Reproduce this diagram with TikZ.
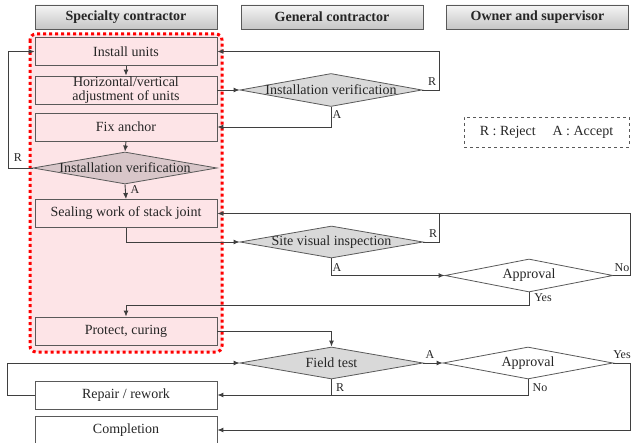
\documentclass[tikz,border=0pt]{standalone}
\usepackage{fontspec}
\setmainfont{Liberation Serif}
\usetikzlibrary{arrows.meta,shapes.geometric}
\definecolor{pinkfill}{HTML}{FDE4E7}
\definecolor{boxline}{HTML}{595959}
\definecolor{connc}{HTML}{3F3F3F}
\definecolor{grayfill}{HTML}{D9D9D9}
\definecolor{pinkgray}{HTML}{D8C6C9}
\definecolor{txt}{HTML}{262626}
\begin{document}
\begin{tikzpicture}[x=1pt,y=-1pt,
  every node/.style={text=txt},
  header/.style={draw=boxline, line width=0.8pt, top color=gray!8, bottom color=gray!45,
    minimum width=182pt, minimum height=24pt, inner sep=0pt, font=\fontsize{14}{14}\selectfont\bfseries},
  box/.style={draw=boxline, line width=0.8pt, fill=pinkfill, minimum width=182pt, minimum height=28pt,
    inner sep=0pt, align=center, font=\fontsize{14}{14.5}\selectfont},
  wbox/.style={box, fill=white},
  dia/.style={diamond, draw=boxline, line width=0.8pt, fill=grayfill, inner sep=0pt,
    minimum width=183pt, minimum height=32pt},
  diatext/.style={font=\fontsize{14}{14}\selectfont, inner sep=0pt},
  lbl/.style={font=\fontsize{12}{12}\selectfont, inner sep=0pt},
  conn/.style={draw=connc, line width=0.9pt},
  arr/.style={conn, -{Latex[length=6pt,width=5pt]}}
]
\useasboundingbox (0,0) rectangle (631,443);

% headers
\node[header] (h1) at (126,17) {Specialty contractor};
\node[header] (h2) at (332,17) {General contractor};
\node[header] (h3) at (537.5,17) {Owner and supervisor};

% red dotted region
\draw[red, fill=pinkfill, line width=3pt, dash pattern=on 3pt off 3pt, rounded corners=6pt]
  (30,34) rectangle (222,352);

% specialty boxes
\node[box] (b1) at (126,51.5) {Install units};
\node[box] (b2) at (126,90) {Horizontal/vertical\\adjustment of units};
\node[box] (b3) at (126,127) {Fix anchor};
\node[dia, fill=pinkgray, minimum width=184pt] (d1) at (125,168) {};
\node[diatext] at (d1.center) {Installation verification};
\node[box] (b4) at (126,213.5) {Sealing work of stack joint};
\node[box] (b5) at (126,331) {Protect, curing};
\node[wbox] (b6) at (126,395) {Repair / rework};
\node[wbox] (b7) at (126,430) {Completion};

% general contractor diamonds
\node[dia, minimum width=182pt, minimum height=33pt] (d2) at (331,90) {};
\node[diatext] at (d2.center) {Installation verification};
\node[dia] (d3) at (331.5,242) {};
\node[diatext] at (d3.center) {Site visual inspection};
\node[dia] (d5) at (331.5,363) {};
\node[diatext] at (d5.center) {Field test};

% owner diamonds
\node[dia, fill=white, minimum width=168pt, minimum height=33pt] (d4) at (529,275.5) {};
\node[diatext] at (d4.center) {Approval};
\node[dia, fill=white, minimum width=170pt] (d6) at (528,363) {};
\node[diatext] at (d6.center) {Approval};

% legend
\node[draw=boxline, dashed, line width=0.7pt, minimum width=165pt, minimum height=30pt,
  inner sep=0pt, font=\fontsize{14}{14}\selectfont] (leg) at (546.5,132)
  {R : Reject\hspace{1.2em}A : Accept};

% connectors
\draw[arr] (b1.south) -- (b2.north);
\draw[arr] (b3.south) -- (d1.north);
\draw[arr] (d1.south) -- (b4.north);
\node[lbl] at (135,190) {A};
\draw[arr] (d1.west) -- ++(-24,0) |- (b1.west);
\node[lbl] at (18,158) {R};

\draw[arr] (b2.east) -- (d2.west);
\draw[arr] (d2.east) -- ++(17,0) |- (b1.east);
\node[lbl] at (432,82) {R};
\draw[arr] (d2.south) |- (b3.east);
\node[lbl] at (337,115) {A};

\draw[arr] (b4.south) |- (d3.west);
\coordinate (j1) at (439,213.5);
\draw[arr] (d3.east) -| (j1) -- (b4.east);
\node[lbl] at (433,234) {R};
\draw[arr] (d3.south) |- (d4.west);
\node[lbl] at (337,268) {A};

\coordinate (rr1) at (630,275.5);
\draw[conn] (d4.east) -- (rr1) |- (j1);
\node[lbl] at (622,268) {No};
\draw[arr] (d4.south) -- ++(0,13) -| (b5.north);
\node[lbl] at (543,298) {Yes};

\draw[arr] (b5.east) -| (d5.north);
\draw[arr] (d5.east) -- (d6.west);
\node[lbl] at (430,355) {A};
\coordinate (rr2) at (630,363);
\draw[arr] (d6.east) -- (rr2) |- (b7.east);
\node[lbl] at (622,355) {Yes};
\draw[arr] (d6.south) |- (b6.east);
\node[lbl] at (540,388) {No};
\draw[conn] (d5.south) -- ++(0,16);
\node[lbl] at (340,388) {R};
\draw[arr] (b6.west) -- ++(-27,0) |- (d5.west);
\end{tikzpicture}
\end{document}
